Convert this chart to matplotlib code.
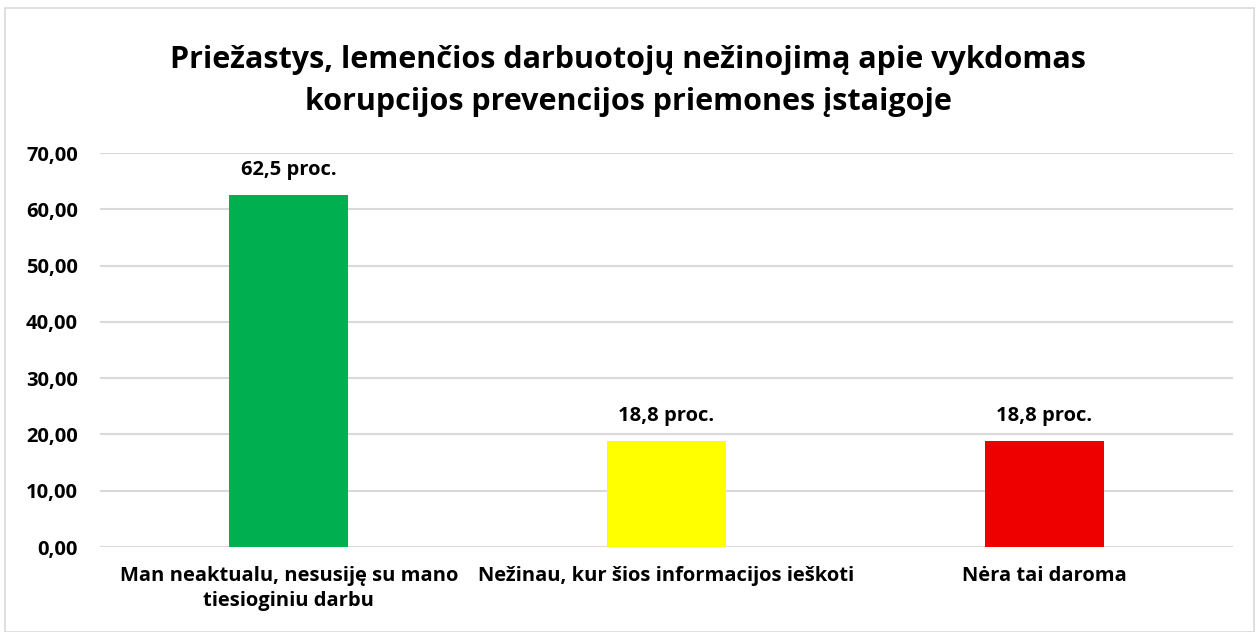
import matplotlib.pyplot as plt
from matplotlib.patches import Rectangle

plt.rcParams['font.family'] = ['Open Sans', 'DejaVu Sans']
plt.rcParams['font.weight'] = 'bold'

categories = ['Man neaktualu, nesusiję su mano\ntiesioginiu darbu',
              'Nežinau, kur šios informacijos ieškoti',
              'Nėra tai daroma']
values = [62.5, 18.8, 18.8]
labels = ['62,5 proc.', '18,8 proc.', '18,8 proc.']
colors = ['#00B050', '#FFFF00', '#EE0000']
yticks = [0, 10, 20, 30, 40, 50, 60, 70]

W, H = 1256, 632
fig = plt.figure(figsize=(W / 100, H / 100), dpi=100)
ax = fig.add_axes([100 / W, (H - 547) / H, (1233 - 100) / W, (547 - 153) / H])

x = range(len(values))
ax.bar(x, values, width=0.315, color=colors, zorder=3)
for i, v in enumerate(values):
    ax.text(i, v + 2.7, labels[i], ha='center', va='bottom', fontsize=14.5, fontweight='bold')

ax.set_xlim(-0.5, 2.5)
ax.set_ylim(0, 70)
ax.set_yticks(yticks)
ax.set_yticklabels(['%d,00' % t for t in yticks], fontsize=14.5, fontweight='bold')
ax.set_xticks(list(x))
ax.set_xticklabels(categories, fontsize=14.5, fontweight='bold', linespacing=1.3)
ax.tick_params(axis='both', length=0)
ax.tick_params(axis='y', pad=16)
ax.tick_params(axis='x', pad=14)
ax.grid(axis='y', color='#D9D9D9', linewidth=1.5, zorder=0)
for s in ax.spines.values():
    s.set_visible(False)

fig.text(0.5, 1 - 81 / H, 'Priežastys, lemenčios darbuotojų nežinojimą apie vykdomas\nkorupcijos prevencijos priemones įstaigoje',
         ha='center', va='center', fontsize=22, fontweight='bold', linespacing=1.5)

fig.patches.append(Rectangle((5 / W, 0), 1 - 7 / W, 1 - 8 / H, transform=fig.transFigure,
                             fill=False, edgecolor='#D9D9D9', linewidth=1.2))

fig.savefig('out.png', dpi=100)
